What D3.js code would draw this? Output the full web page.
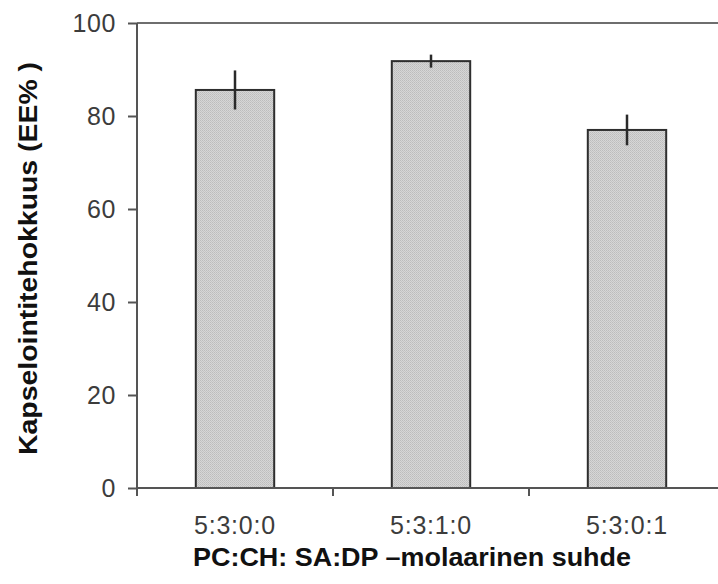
<!DOCTYPE html>
<html>
<head>
<meta charset="utf-8">
<script src="https://cdn.jsdelivr.net/npm/d3@7"></script>
<style>
  html, body { margin: 0; padding: 0; background: #fff; }
  svg { display: block; }
</style>
</head>
<body>
<svg id="chart" width="718" height="584"></svg>
<script>
// Encapsulation efficiency per lipid molar ratio
const categories = ["5:3:0:0", "5:3:1:0", "5:3:0:1"];
const efficiency = [85.6, 91.8, 77.0];
const errors = [4.2, 1.4, 3.3];
const yTicks = [0, 20, 40, 60, 80, 100];
const yLabel = "Kapselointitehokkuus (EE% )";
const xLabel = "PC:CH: SA:DP –molaarinen suhde";

const svg = d3.select("#chart");
const plot = { left: 137, right: 725, top: 23, bottom: 488 };
const font = "Liberation Sans, Arial, sans-serif";

// Dotted grey fill for the bars
const defs = svg.append("defs");
const pat = defs.append("pattern")
  .attr("id", "dots").attr("width", 2).attr("height", 2)
  .attr("patternUnits", "userSpaceOnUse");
pat.append("rect").attr("width", 2).attr("height", 2).attr("fill", "#d6d6d6");
pat.append("rect").attr("width", 1).attr("height", 1).attr("fill", "#bcbcbc");
pat.append("rect").attr("x", 1).attr("y", 1).attr("width", 1).attr("height", 1).attr("fill", "#c4c4c4");

const x = d3.scaleBand().domain(categories).range([plot.left, plot.right]).padding(0);
const y = d3.scaleLinear().domain([0, 100]).range([plot.bottom, plot.top]);
const barW = x.bandwidth() * 0.4;

// Top frame line
svg.append("line")
  .attr("x1", plot.left).attr("x2", plot.right)
  .attr("y1", y(100)).attr("y2", y(100))
  .attr("stroke", "#6e6e6e").attr("stroke-width", 2);

// Bars
svg.append("g").selectAll("rect").data(categories).join("rect")
  .attr("x", d => x(d) + x.bandwidth() / 2 - barW / 2)
  .attr("y", (d, i) => y(efficiency[i]))
  .attr("width", barW)
  .attr("height", (d, i) => y(0) - y(efficiency[i]))
  .attr("fill", "url(#dots)")
  .attr("stroke", "#2e2e2e").attr("stroke-width", 2);

// Error bars
svg.append("g").selectAll("line").data(categories).join("line")
  .attr("x1", d => x(d) + x.bandwidth() / 2)
  .attr("x2", d => x(d) + x.bandwidth() / 2)
  .attr("y1", (d, i) => y(efficiency[i] + errors[i]))
  .attr("y2", (d, i) => y(efficiency[i] - errors[i]))
  .attr("stroke", "#2a2a2a").attr("stroke-width", 2.5);

// Y axis
const yAxis = svg.append("g")
  .attr("transform", `translate(${plot.left},0)`)
  .call(d3.axisLeft(y).tickValues(yTicks).tickSize(9).tickPadding(12));
yAxis.select(".domain").attr("stroke", "#555").attr("stroke-width", 2)
  .attr("d", `M0,${y(100)}V${y(0) + 8}`);
yAxis.selectAll(".tick line").attr("stroke", "#555").attr("stroke-width", 2);
yAxis.selectAll(".tick text")
  .attr("font-family", font).attr("font-size", 25)
  .attr("letter-spacing", 0.6).attr("fill", "#3c3c3c");

// X axis (labels centred, ticks at category boundaries)
const xAxis = svg.append("g")
  .attr("transform", `translate(0,${plot.bottom})`)
  .call(d3.axisBottom(x).tickSize(0).tickPadding(28));
xAxis.select(".domain").attr("stroke", "#555").attr("stroke-width", 2)
  .attr("d", `M${plot.left},0H${plot.right}`);
xAxis.selectAll(".tick text")
  .attr("font-family", font).attr("font-size", 25)
  .attr("letter-spacing", 0.8).attr("fill", "#3c3c3c");
xAxis.selectAll(".sep").data(categories.slice(1)).join("line")
  .attr("class", "sep")
  .attr("x1", d => x(d)).attr("x2", d => x(d))
  .attr("y1", 0).attr("y2", 8)
  .attr("stroke", "#555").attr("stroke-width", 2);

// Axis titles
svg.append("text")
  .attr("transform", `translate(37,${(plot.top + plot.bottom) / 2 + 3}) rotate(-90)`)
  .attr("text-anchor", "middle")
  .attr("font-family", font).attr("font-size", 26)
  .attr("font-weight", "bold").attr("fill", "#111")
  .attr("textLength", 393).attr("lengthAdjust", "spacingAndGlyphs")
  .text(yLabel);

svg.append("text")
  .attr("x", 412).attr("y", 566)
  .attr("text-anchor", "middle")
  .attr("font-family", font).attr("font-size", 26)
  .attr("font-weight", "bold").attr("fill", "#111")
  .attr("textLength", 438).attr("lengthAdjust", "spacingAndGlyphs")
  .text(xLabel);
</script>
</body>
</html>
